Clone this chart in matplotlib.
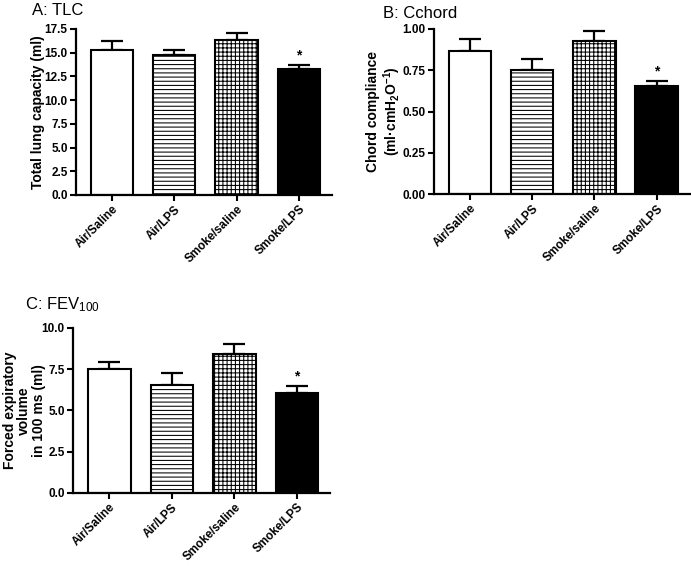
import matplotlib.pyplot as plt
import matplotlib as mpl

plt.rcParams['font.family'] = ['Liberation Sans', 'DejaVu Sans']
plt.rcParams['mathtext.fontset'] = 'custom'
plt.rcParams['mathtext.rm'] = 'Liberation Sans'
plt.rcParams['mathtext.bf'] = 'Liberation Sans:bold'
plt.rcParams['mathtext.default'] = 'bf'
plt.rcParams['hatch.linewidth'] = 0.75

groups = ['Air/Saline', 'Air/LPS', 'Smoke/saline', 'Smoke/LPS']

tlc_mean = [15.28, 14.75, 16.32, 13.3]
tlc_err = [0.98, 0.52, 0.72, 0.43]

cchord_mean = [0.868, 0.75, 0.925, 0.657]
cchord_err = [0.069, 0.07, 0.063, 0.031]

fev_mean = [7.49, 6.55, 8.40, 6.04]
fev_err = [0.47, 0.74, 0.65, 0.46]

hatches = ['', '----', '++++', '']
faces = ['white', 'white', 'white', 'black']


def panel(rect, means, errs, ylabel, title, ylim, yticks, fmt, title_xy, ylabel_x):
    ax = fig.add_axes(rect)
    x = list(range(len(groups)))
    ax.bar(x, means, width=0.68, color=faces, edgecolor='black',
           linewidth=1.5, zorder=2)
    for p, h in zip(ax.patches, hatches):
        p.set_hatch(h)
    ax.errorbar(x, means, yerr=[[0] * 4, errs], fmt='none', ecolor='black',
                elinewidth=1.6, capsize=8, capthick=1.6, zorder=1)
    ax.text(3, means[3] + errs[3] + ylim[1] * 0.012, '*', ha='center', va='bottom',
            fontsize=10, fontweight='bold')
    ax.set_xlim(-0.58, 3.53)
    ax.set_ylim(*ylim)
    ax.set_yticks(yticks)
    ax.set_yticklabels([fmt.format(v) for v in yticks], fontsize=8.5, fontweight='bold')
    ax.set_xticks(x)
    ax.set_xticklabels(groups, rotation=45, ha='right', rotation_mode='anchor',
                       fontsize=8.5, fontweight='bold')
    for s in ['top', 'right']:
        ax.spines[s].set_visible(False)
    for s in ['left', 'bottom']:
        ax.spines[s].set_linewidth(1.6)
    ax.tick_params(width=1.5, length=4, direction='out', pad=2)
    ax.set_ylabel(ylabel, fontsize=10, fontweight='bold', linespacing=1.05)
    ax.yaxis.set_label_coords(ylabel_x, 0.5)
    fig.text(title_xy[0], title_xy[1], title, fontsize=12, ha='left', va='center')
    return ax


fig = plt.figure(figsize=(6.91, 5.66), dpi=100)

panel([0.110, 0.6555, 0.370, 0.2933], tlc_mean, tlc_err, 'Total lung capacity (ml)',
      'A: TLC', (0, 17.5), [0, 2.5, 5, 7.5, 10, 12.5, 15, 17.5], '{:.1f}',
      (0.046, 0.982), -0.12)

panel([0.628, 0.657, 0.370, 0.2918], cchord_mean, cchord_err,
      'Chord compliance\n(ml\u00b7cmH$_2$O$^{-1}$)',
      'B: Cchord', (0, 1.0), [0, 0.25, 0.5, 0.75, 1.0], '{:.2f}',
      (0.554, 0.977), -0.122)

panel([0.1056, 0.129, 0.372, 0.2915], fev_mean, fev_err,
      'Forced expiratory\nvolume\nin 100 ms (ml)',
      'C: FEV$\\mathrm{_{100}}$', (0, 10), [0, 2.5, 5, 7.5, 10], '{:.1f}',
      (0.036, 0.461), -0.105)

fig.savefig('out.png', dpi=100)
